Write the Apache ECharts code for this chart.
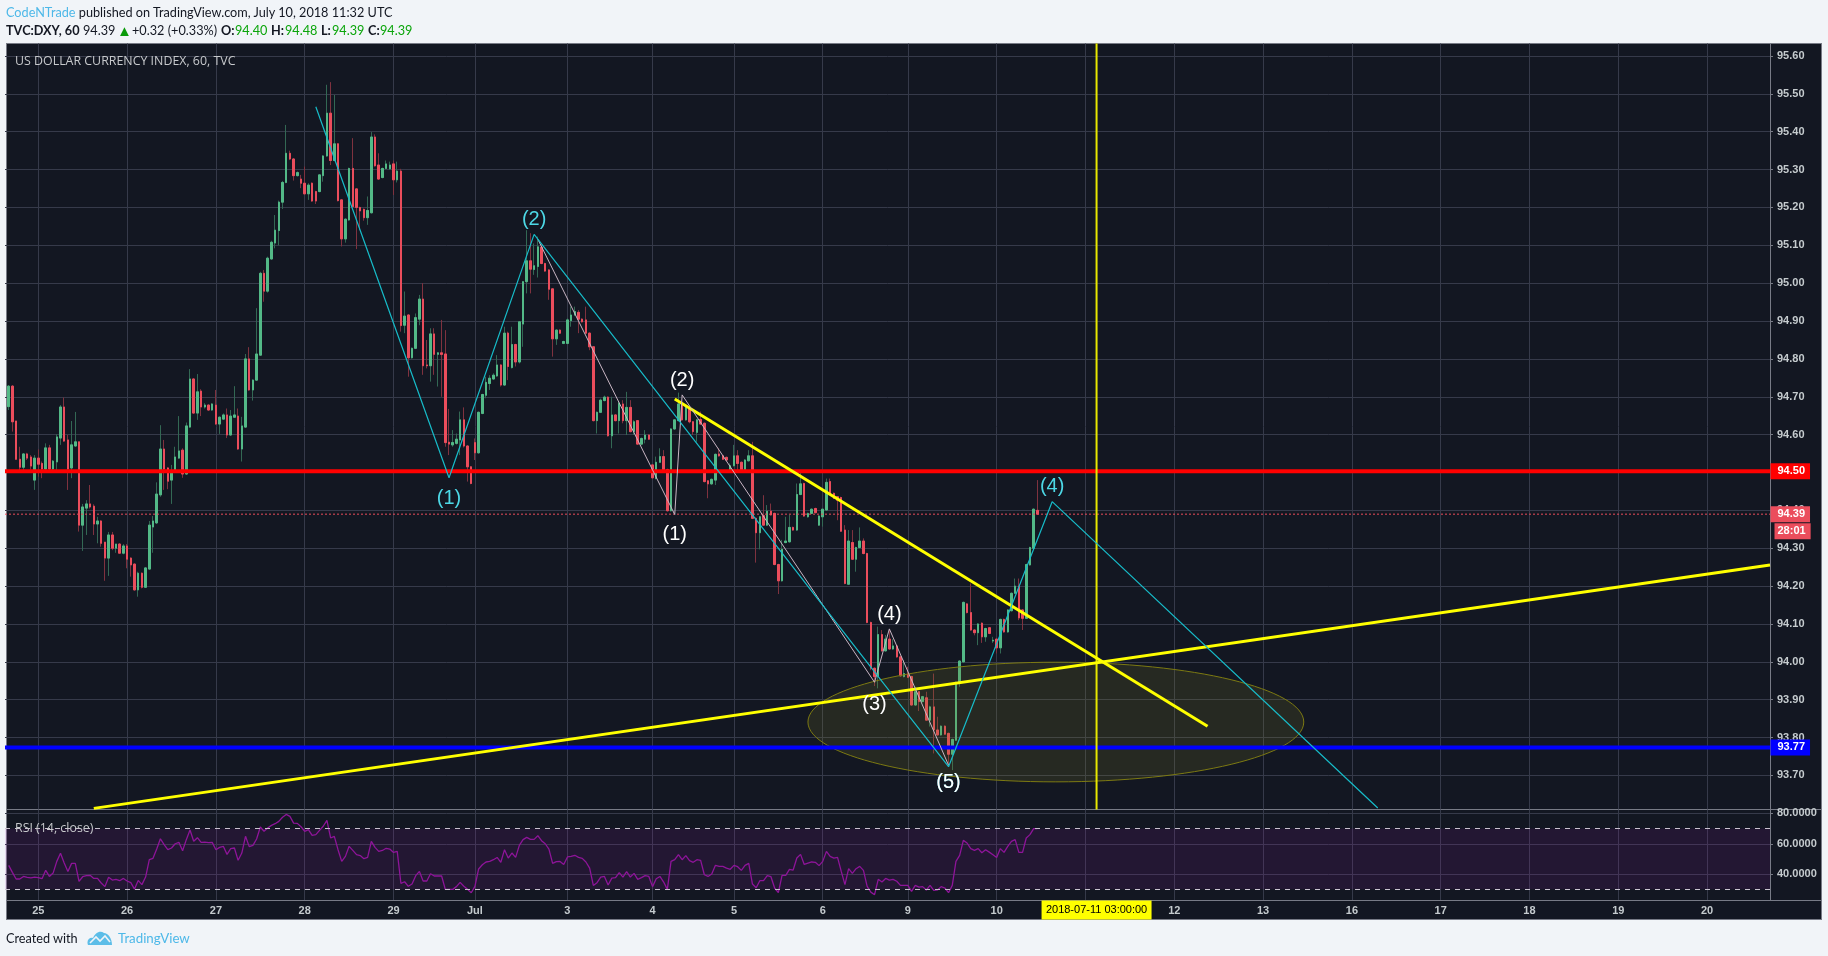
<!DOCTYPE html>
<html>
<head>
<meta charset="utf-8">
<title>TVC:DXY, 60</title>
<script src="https://cdn.jsdelivr.net/npm/echarts@6/dist/echarts.min.js"></script>
<style>
    html, body { margin: 0; padding: 0; width: 1828px; height: 956px; overflow: hidden; background: #f1f4f8; }
    #panel { position: absolute; left: 6px; top: 43px; width: 1814px; height: 875px; background: #131722; border: 1px solid #787b86; }
    .rule { position: absolute; background: #787b86; }
    #chart { position: absolute; left: 0; top: 0; width: 1828px; height: 956px; }
    .hd { position: absolute; font: 12.7px Lato, sans-serif; white-space: nowrap; color: #131722; line-height: 18px; }
    .num { color: #0aa50a; }
    .blue { color: #4db8e8; }
</style>
</head>
<body>
<div id="panel"></div>
<div class="rule" style="left:6px;top:809px;width:1815px;height:1px"></div>
<div class="rule" style="left:6px;top:900px;width:1815px;height:1px"></div>
<div class="rule" style="left:1770px;top:43px;width:1px;height:857px"></div>
<div id="chart"></div>

<div class="hd" style="left:6px;top:3px"><span class="blue">CodeNTrade</span> published on TradingView.com, July 10, 2018 11:32 UTC</div>
<div class="hd" style="left:6px;top:21px;font-weight:700">TVC:DXY, 60</div>
<div class="hd" style="left:83px;top:21px">94.39</div>
<div class="hd" style="left:117px;top:21px;color:#0a9a0a;font-size:15px">▲</div>
<div class="hd" style="left:132px;top:21px">+0.32 (+0.33%)</div>
<div class="hd" style="left:221px;top:21px;font-weight:700">O:</div><div class="hd num" style="left:235px;top:21px">94.40</div>
<div class="hd" style="left:271px;top:21px;font-weight:700">H:</div><div class="hd num" style="left:285px;top:21px">94.48</div>
<div class="hd" style="left:321px;top:21px;font-weight:700">L:</div><div class="hd num" style="left:332px;top:21px">94.39</div>
<div class="hd" style="left:368px;top:21px;font-weight:700">C:</div><div class="hd num" style="left:380px;top:21px">94.39</div>
<div class="hd" style="left:6px;top:929px">Created with</div>
<svg style="position:absolute;left:87px;top:930px" width="26" height="16" viewBox="0 0 26 16">
    <path d="M1 15 C-1 10 3 7 6 8 C8 3 13 0 17 3 C21 3 25 8 25 15 Z" fill="#5cbde8"/>
    <path d="M3 13 L9 7 L13 11 L18 6 L23 12" fill="none" stroke="#f1f4f8" stroke-width="1.6"/>
</svg>
<div class="hd blue" style="left:118px;top:929px;font-size:13.3px">TradingView</div>

<script>
// hourly bars, index 0 of the axis is left empty
const opens = [null,
    94.674,94.728,94.636,94.535,94.514,94.549,94.541,94.480,94.538,94.524,
    94.509,94.565,94.509,94.528,94.591,94.673,94.586,94.512,94.570,94.581,
    94.361,94.406,94.417,94.411,94.364,94.372,94.316,94.274,94.335,94.300,
    94.311,94.287,94.306,94.274,94.258,94.190,94.234,94.197,94.245,94.356,
    94.367,94.441,94.562,94.512,94.480,94.501,94.538,94.559,94.496,94.620,
    94.747,94.657,94.715,94.673,94.678,94.665,94.678,94.628,94.641,94.652,
    94.599,94.646,94.649,94.562,94.620,94.800,94.718,94.744,94.810,95.026,
    94.979,95.064,95.106,95.139,95.214,95.266,95.343,95.328,95.284,95.275,
    95.264,95.236,95.264,95.242,95.242,95.284,95.336,95.449,95.324,95.368,
    95.220,95.117,95.167,95.303,95.249,95.200,95.195,95.173,95.186,95.386,
    95.312,95.279,95.303,95.302,95.315,95.273,95.296,94.889,94.916,94.803,
    94.828,94.905,94.958,94.784,94.782,94.866,94.812,94.816,94.813,94.580,
    94.573,94.577,94.586,94.639,94.570,94.515,94.579,94.552,94.656,94.704,
    94.735,94.747,94.755,94.784,94.731,94.868,94.777,94.838,94.792,94.892,
    95.004,95.059,95.036,95.044,95.095,95.052,95.035,94.985,94.853,94.876,
    94.841,94.841,94.901,94.916,94.923,94.905,94.903,94.868,94.832,94.637,
    94.659,94.690,94.699,94.597,94.652,94.637,94.681,94.637,94.672,94.608,
    94.637,94.575,94.588,94.599,94.520,94.484,94.527,94.542,94.508,94.399,
    94.615,94.637,94.681,94.639,94.672,94.634,94.606,94.640,94.630,94.478,
    94.470,94.480,94.549,94.544,94.540,94.508,94.518,94.544,94.527,94.502,
    94.531,94.544,94.379,94.341,94.386,94.361,94.398,94.392,94.257,94.214,
    94.315,94.317,94.355,94.348,94.442,94.471,94.383,94.392,94.405,94.361,
    94.383,94.401,94.476,94.445,94.436,94.434,94.348,94.205,94.315,94.271,
    94.302,94.319,94.286,94.104,93.983,93.961,94.072,94.029,94.060,94.034,
    94.042,94.013,93.961,93.968,93.961,93.886,93.921,93.895,93.905,93.846,
    93.881,93.820,93.807,93.830,93.811,93.756,93.793,93.945,94.000,94.153,
    94.130,94.084,94.077,94.102,94.066,94.090,94.055,94.060,94.037,94.112,
    94.079,94.135,94.181,94.200,94.137,94.115,94.256,94.300,94.400]
const closes = [null,
    94.728,94.634,94.535,94.514,94.549,94.538,94.517,94.538,94.522,94.509,
    94.565,94.509,94.530,94.594,94.673,94.583,94.509,94.573,94.581,94.361,
    94.409,94.417,94.409,94.364,94.372,94.313,94.274,94.335,94.300,94.311,
    94.287,94.306,94.271,94.256,94.190,94.234,94.197,94.248,94.361,94.372,
    94.443,94.562,94.509,94.477,94.504,94.541,94.557,94.496,94.623,94.747,
    94.657,94.713,94.673,94.678,94.665,94.681,94.628,94.646,94.652,94.599,
    94.649,94.652,94.562,94.623,94.800,94.718,94.744,94.813,95.026,94.979,
    95.066,95.108,95.140,95.214,95.266,95.343,95.328,95.284,95.292,95.264,
    95.236,95.259,95.217,95.217,95.286,95.336,95.449,95.324,95.368,95.218,
    95.117,95.169,95.303,95.202,95.200,95.191,95.173,95.192,95.386,95.310,
    95.275,95.303,95.315,95.312,95.273,95.296,94.888,94.913,94.803,94.828,
    94.909,94.958,94.782,94.782,94.866,94.812,94.816,94.812,94.579,94.575,
    94.579,94.588,94.639,94.570,94.515,94.471,94.552,94.659,94.706,94.738,
    94.749,94.757,94.784,94.731,94.868,94.780,94.838,94.792,94.898,95.004,
    95.059,95.037,95.046,95.096,95.052,95.032,94.984,94.853,94.876,94.868,
    94.846,94.903,94.916,94.925,94.905,94.898,94.868,94.832,94.637,94.659,
    94.691,94.699,94.597,94.652,94.637,94.683,94.637,94.672,94.608,94.634,
    94.575,94.590,94.599,94.588,94.486,94.527,94.542,94.508,94.399,94.615,
    94.639,94.681,94.639,94.674,94.634,94.608,94.639,94.628,94.476,94.470,
    94.482,94.548,94.544,94.535,94.533,94.518,94.544,94.524,94.505,94.533,
    94.544,94.379,94.341,94.383,94.361,94.398,94.388,94.257,94.214,94.297,
    94.319,94.355,94.348,94.442,94.470,94.385,94.392,94.403,94.394,94.385,
    94.403,94.474,94.442,94.432,94.427,94.345,94.207,94.319,94.271,94.302,
    94.319,94.286,94.104,93.983,93.961,94.072,94.029,94.060,94.034,94.042,
    94.013,93.963,93.969,93.959,93.886,93.921,93.895,93.908,93.846,93.881,
    93.820,93.807,93.830,93.809,93.756,93.795,93.946,94.002,94.157,94.130,
    94.084,94.077,94.100,94.066,94.088,94.075,94.057,94.037,94.112,94.079,
    94.137,94.181,94.200,94.116,94.115,94.257,94.302,94.403,94.390]
const lows = [null,
    94.665,94.608,94.533,94.502,94.502,94.533,94.507,94.454,94.489,94.485,
    94.507,94.507,94.502,94.502,94.573,94.581,94.454,94.485,94.568,94.344,
    94.293,94.335,94.405,94.335,94.313,94.304,94.214,94.227,94.295,94.288,
    94.286,94.284,94.247,94.225,94.188,94.172,94.194,94.195,94.243,94.288,
    94.364,94.436,94.454,94.456,94.417,94.499,94.536,94.486,94.494,94.618,
    94.655,94.639,94.649,94.669,94.663,94.663,94.626,94.602,94.639,94.591,
    94.597,94.644,94.560,94.529,94.618,94.716,94.690,94.742,94.808,94.951,
    94.975,95.062,95.092,95.100,95.196,95.264,95.325,95.271,95.282,95.251,
    95.234,95.220,95.215,95.209,95.240,95.268,95.334,95.312,95.322,95.216,
    95.097,95.107,95.165,95.200,95.090,95.140,95.165,95.154,95.184,95.308,
    95.273,95.277,95.301,95.300,95.233,95.266,94.872,94.868,94.753,94.801,
    94.826,94.889,94.758,94.775,94.740,94.758,94.727,94.700,94.568,94.546,
    94.568,94.574,94.546,94.566,94.476,94.469,94.533,94.550,94.654,94.696,
    94.718,94.745,94.753,94.727,94.729,94.744,94.775,94.780,94.788,94.832,
    94.973,94.973,95.022,95.015,95.050,95.030,94.956,94.806,94.837,94.866,
    94.839,94.839,94.885,94.914,94.868,94.896,94.866,94.823,94.635,94.603,
    94.657,94.688,94.595,94.564,94.635,94.603,94.630,94.599,94.606,94.599,
    94.573,94.572,94.577,94.586,94.484,94.482,94.525,94.506,94.397,94.397,
    94.613,94.635,94.637,94.637,94.630,94.599,94.581,94.626,94.474,94.432,
    94.468,94.467,94.542,94.533,94.531,94.499,94.516,94.506,94.503,94.500,
    94.529,94.377,94.262,94.297,94.359,94.359,94.386,94.255,94.179,94.212,
    94.313,94.315,94.346,94.346,94.440,94.383,94.381,94.390,94.392,94.359,
    94.357,94.399,94.440,94.430,94.374,94.343,94.205,94.203,94.269,94.238,
    94.300,94.284,94.102,93.978,93.936,93.930,94.027,94.027,94.032,94.032,
    94.011,93.961,93.959,93.957,93.884,93.884,93.870,93.893,93.844,93.829,
    93.758,93.805,93.805,93.807,93.723,93.714,93.791,93.934,93.998,94.128,
    94.082,94.070,94.044,94.050,94.053,94.073,94.050,94.022,94.022,94.077,
    94.077,94.133,94.179,94.110,94.084,94.113,94.254,94.298,94.390]
const highs = [null,
    94.731,94.731,94.636,94.568,94.551,94.552,94.546,94.546,94.561,94.529,
    94.577,94.573,94.533,94.601,94.678,94.698,94.599,94.636,94.660,94.581,
    94.417,94.427,94.467,94.416,94.383,94.374,94.316,94.343,94.343,94.311,
    94.313,94.311,94.311,94.276,94.260,94.238,94.236,94.250,94.372,94.385,
    94.474,94.625,94.586,94.514,94.520,94.568,94.649,94.564,94.632,94.773,
    94.749,94.760,94.720,94.683,94.680,94.683,94.718,94.648,94.656,94.669,
    94.665,94.728,94.669,94.647,94.813,94.831,94.746,94.934,95.030,95.035,
    95.070,95.112,95.180,95.218,95.270,95.418,95.350,95.330,95.295,95.286,
    95.308,95.264,95.266,95.244,95.288,95.338,95.524,95.531,95.497,95.370,
    95.222,95.171,95.305,95.383,95.251,95.202,95.197,95.229,95.399,95.393,
    95.343,95.305,95.324,95.321,95.324,95.321,95.302,94.978,94.918,94.830,
    94.920,94.969,95.000,94.850,94.881,94.881,94.818,94.903,94.876,94.668,
    94.612,94.603,94.661,94.672,94.572,94.517,94.590,94.661,94.708,94.753,
    94.757,94.762,94.810,94.786,94.885,94.872,94.885,94.840,94.900,95.006,
    95.140,95.132,95.105,95.123,95.101,95.054,95.037,94.987,94.878,94.878,
    94.848,94.907,94.938,94.938,94.929,94.907,94.938,94.870,94.834,94.661,
    94.695,94.703,94.701,94.700,94.654,94.687,94.691,94.713,94.691,94.638,
    94.638,94.592,94.612,94.601,94.522,94.542,94.564,94.559,94.510,94.617,
    94.641,94.711,94.690,94.676,94.674,94.636,94.641,94.661,94.632,94.480,
    94.484,94.550,94.564,94.546,94.542,94.524,94.573,94.559,94.529,94.535,
    94.559,94.581,94.381,94.385,94.440,94.414,94.418,94.394,94.259,94.322,
    94.383,94.388,94.357,94.471,94.502,94.473,94.394,94.405,94.407,94.387,
    94.405,94.484,94.484,94.447,94.438,94.436,94.361,94.348,94.348,94.304,
    94.355,94.326,94.288,94.106,93.985,94.093,94.084,94.071,94.084,94.060,
    94.044,94.015,94.005,93.987,93.963,93.934,93.923,93.910,93.921,93.884,
    93.969,93.855,93.832,93.832,93.813,93.797,93.948,94.004,94.159,94.155,
    94.207,94.086,94.102,94.104,94.090,94.092,94.066,94.062,94.114,94.114,
    94.139,94.183,94.220,94.220,94.139,94.259,94.304,94.405,94.480]
const rsi = [null,
    45.8,41.2,36.8,36.8,38.5,37.9,37.5,38.1,37.7,37.0,
    42.5,38.5,40.7,48.4,53.7,47.3,41.8,47.1,47.1,35.3,
    38.3,39.0,39.2,37.2,37.2,34.2,31.8,37.9,36.1,36.6,
    35.7,37.2,35.5,34.4,30.2,35.9,33.1,38.1,49.5,50.4,
    56.5,63.3,59.4,56.1,57.2,60.0,60.9,55.4,62.7,69.0,
    61.6,64.0,60.9,61.1,60.7,60.9,56.1,57.6,58.3,53.0,
    56.8,57.2,49.1,53.9,64.9,58.1,58.9,63.1,71.0,68.2,
    70.4,72.1,73.2,74.7,77.4,79.3,78.0,73.6,73.4,71.2,
    68.2,69.3,65.5,66.0,68.8,71.5,75.4,63.8,64.9,56.1,
    48.4,51.7,58.3,55.6,52.8,52.2,50.2,51.0,61.6,57.6,
    55.0,55.6,57.0,56.5,54.3,55.0,33.9,35.0,32.0,33.5,
    39.0,41.8,35.5,35.5,40.3,38.8,38.8,38.8,30.0,30.0,
    30.0,31.8,34.6,32.0,30.0,27.8,32.0,43.4,46.2,48.0,
    48.4,49.5,51.0,47.8,56.1,50.6,53.9,51.0,58.9,62.7,
    64.2,62.9,62.9,65.3,62.0,60.0,56.5,47.1,48.2,48.4,
    46.4,51.3,51.7,52.4,51.0,50.4,48.0,44.0,32.6,34.4,
    38.1,38.5,32.9,37.4,37.7,41.0,38.1,41.6,38.1,40.5,
    36.6,37.7,39.0,38.5,31.8,37.0,38.5,34.8,30.0,48.4,
    49.5,52.8,49.5,52.2,48.9,47.8,49.5,49.1,39.6,38.5,
    40.1,45.8,45.1,45.1,44.0,43.2,45.8,44.9,42.5,45.8,
    47.1,33.5,31.1,35.7,35.7,39.0,38.3,30.9,27.8,39.2,
    39.2,43.2,42.7,50.6,53.0,46.4,47.3,48.0,47.8,45.6,
    48.4,55.0,51.7,50.6,51.0,41.8,33.1,43.6,40.5,43.6,
    45.1,42.5,32.0,28.2,26.5,36.6,34.8,37.2,36.1,36.6,
    35.3,32.6,32.6,32.6,28.7,32.6,31.5,31.8,29.6,32.6,
    29.3,29.6,31.8,30.9,27.8,32.6,48.4,52.4,62.2,60.5,
    56.8,55.6,56.8,54.1,56.1,54.5,52.8,51.0,56.8,54.3,
    58.3,61.6,62.7,54.3,54.3,63.8,66.0,69.9,69.9]

const dayTickIdx = [9,33,57,81,105,127,152,175,197,221,244,268,292,316,340,364,388,412,436,460]
const dayTickLabels = ['25','26','27','28','29','Jul','3','4','5','6','9','10','11','12','13','16','17','18','19','20']
const priceTicks = [93.7,93.8,93.9,94.0,94.1,94.2,94.3,94.4,94.5,94.6,94.7,94.8,94.9,95.0,95.1,95.2,95.3,95.4,95.5,95.6]
const rsiTicks = [40,60,80]
const rsiBounds = [70,30]
const lastIndex = 477

// drawings on the chart
const waveCyanX = [84,120,143,236,255,283,371]
const waveCyanY = [95.466,94.486,95.129,93.961,93.723,94.423,93.614]
const wavePaleX = [144,181,183,235,239,255]
const wavePaleY = [95.116,94.389,94.705,93.946,94.087,93.727]
const trendDownX = [181,325]
const trendDownY = [94.694,93.830]
const trendUpX = [24,477]
const trendUpY = [93.613,94.256]
const resistance = 94.503
const support = 93.774
const lastPrice = 94.39
const cursorIdx = 295
const ellipseCenter = [284,93.841]
const ellipseRadius = [67,0.158]

const paleLabelX = [181,183,235,239,255]
const paleLabelY = [94.337,94.744,93.888,94.126,93.682]
const paleLabelText = ['(1)','(2)','(3)','(4)','(5)']
const cyanLabelX = [120,143,283,255]
const cyanLabelY = [94.432,95.167,94.462,93.682]
const cyanLabelText = ['(1)','(2)','(4)','(5)']

const AXIS_FONT = '"Liberation Sans", Arial, sans-serif'
const GRID_COLOR = '#363a4a'
const LABEL_COLOR = '#c5cbce'
const HIDDEN = 'rgba(0,0,0,0)'

const categories = Array.from({ length: lastIndex + 1 }, (_, i) => String(i))
const isDayTick = (i) => dayTickIdx.includes(i)

const wickData = opens.map((o, k) => [o, closes[k], lows[k], highs[k]])
const bodyData = opens.map((o, k) => o === null ? [null, null, null, null] : [o, closes[k], Math.min(o, closes[k]), Math.max(o, closes[k])])

function pairs(xs, ys) {
    return xs.map((x, k) => [x, ys[k]])
}

function drawLine(xs, ys, color, width, extra) {
    return Object.assign({
        type: 'line', xAxisIndex: 0, yAxisIndex: 0, z: 4, silent: true, animation: false,
        data: pairs(xs, ys), showSymbol: false, symbol: 'none',
        lineStyle: { color, width }, itemStyle: { color },
    }, extra || {})
}

function textMarks(xs, ys, texts, color, extra) {
    return Object.assign({
        type: 'scatter', xAxisIndex: 0, yAxisIndex: 0, z: 6, silent: true, animation: false,
        data: pairs(xs, ys), symbolSize: 1, itemStyle: { color: HIDDEN, opacity: 1 },
        label: {
            show: true, position: 'inside', color, fontSize: 20, fontFamily: AXIS_FONT,
            formatter: (p) => texts[p.dataIndex],
        },
    }, extra || {})
}

function priceTag(value, text, bg, extra) {
    return {
        type: 'scatter', xAxisIndex: 0, yAxisIndex: 0, z: 7, silent: true, animation: false, clip: false,
        data: [[lastIndex, value]], symbolSize: 1, itemStyle: { color: HIDDEN, opacity: 1 },
        label: Object.assign({
            show: true, position: 'right', distance: 0, formatter: text,
            color: '#fff', fontSize: 11, fontFamily: AXIS_FONT, fontWeight: 'bold',
            backgroundColor: bg, height: 16, lineHeight: 16, padding: [0, 5, 0, 7],
        }, extra || {}),
    }
}

const chart = echarts.init(document.getElementById('chart'), null, { renderer: 'canvas' })
chart.setOption({
    animation: false,
    backgroundColor: 'transparent',
    title: [
        { text: 'US DOLLAR CURRENCY INDEX, 60, TVC', left: 15, top: 55, padding: 0,
          textStyle: { color: '#c7c9cc', fontSize: 12.4, fontWeight: 'normal', fontFamily: '"Open Sans", sans-serif' } },
        { text: 'RSI (14, close)', left: 15, top: 822, padding: 0, z: 8,
          textStyle: { color: '#c7c9cc', fontSize: 12.4, fontWeight: 'normal', fontFamily: '"Open Sans", sans-serif' } },
    ],
    grid: [
        { left: 5, top: 43.5, width: 1765, height: 766 },
        { left: 5, top: 810, width: 1765, height: 90 },
    ],
    xAxis: [
        {
            type: 'category', gridIndex: 0, data: categories, boundaryGap: false,
            axisLine: { show: false }, axisTick: { show: false }, axisLabel: { show: false },
            splitLine: { show: true, interval: (i) => isDayTick(i), lineStyle: { color: GRID_COLOR, width: 1 } },
        },
        {
            type: 'category', gridIndex: 1, data: categories, boundaryGap: false,
            axisLine: { show: false }, axisTick: { show: false },
            axisLabel: {
                show: true, interval: (i) => isDayTick(i), margin: 5, color: LABEL_COLOR, fontSize: 11, fontFamily: AXIS_FONT, fontWeight: 'bold',
                formatter: (v, i) => dayTickLabels[dayTickIdx.indexOf(i)],
            },
            splitLine: { show: true, interval: (i) => isDayTick(i), lineStyle: { color: GRID_COLOR, width: 1 } },
        },
    ],
    yAxis: [
        {
            type: 'value', gridIndex: 0, position: 'right', min: 93.61, max: 95.633, scale: true,
            axisLine: { show: false },
            axisTick: { show: true, length: 3, customValues: priceTicks, lineStyle: { color: '#787b86' } },
            axisLabel: {
                customValues: priceTicks, margin: 7, color: LABEL_COLOR, fontSize: 11, fontFamily: AXIS_FONT, fontWeight: 'bold',
                padding: [2, 0, 0, 0],
                formatter: (v) => v.toFixed(2),
            },
            splitLine: { show: true, lineStyle: { color: GRID_COLOR, width: 1 } },
        },
        {
            type: 'value', gridIndex: 1, position: 'right', min: 23, max: 82.2,
            axisLine: { show: false },
            axisTick: { show: true, length: 3, customValues: rsiTicks, lineStyle: { color: '#787b86' } },
            axisLabel: {
                customValues: rsiTicks, margin: 7, color: LABEL_COLOR, fontSize: 11, fontFamily: AXIS_FONT, fontWeight: 'bold',
                padding: [2, 0, 0, 0],
                formatter: (v) => v.toFixed(4),
            },
            splitLine: { show: true, lineStyle: { color: GRID_COLOR, width: 1 } },
        },
    ],
    series: [
        {
            type: 'candlestick', xAxisIndex: 0, yAxisIndex: 0, z: 2, silent: true, barWidth: 2, data: wickData,
            itemStyle: { color: '#336854', color0: '#7f323f', borderColor: '#336854', borderColor0: '#7f323f', borderWidth: 1 },
        },
        {
            type: 'candlestick', xAxisIndex: 0, yAxisIndex: 0, z: 2, silent: true, barWidth: 2, data: bodyData,
            itemStyle: { color: '#53b987', color0: '#eb4d5c', borderColor: '#53b987', borderColor0: '#eb4d5c', borderWidth: 1 },
        },
        {
            type: 'custom', xAxisIndex: 0, yAxisIndex: 0, z: 3, silent: true, data: [ellipseCenter],
            encode: { x: 0, y: 1 },
            renderItem(params, api) {
                const c = api.coord([api.value(0), api.value(1)])
                const e = api.coord([api.value(0) + ellipseRadius[0], api.value(1) + ellipseRadius[1]])
                return {
                    type: 'ellipse',
                    shape: { cx: c[0], cy: c[1], rx: e[0] - c[0], ry: c[1] - e[1] },
                    style: { fill: 'rgba(130,130,40,0.18)', stroke: '#7d7a12', lineWidth: 1 },
                }
            },
        },
        drawLine([0, lastIndex], [lastPrice, lastPrice], '#eb4d5c', 1, { lineStyle: { color: '#eb4d5c', width: 1, type: [2, 2] } }),
        drawLine([0, lastIndex], [resistance, resistance], '#ff0000', 4),
        drawLine([0, lastIndex], [support, support], '#0000ff', 4),
        drawLine([cursorIdx, cursorIdx], [93.61, 95.633], '#e8e800', 2),
        drawLine(trendUpX, trendUpY, '#ffff00', 3),
        drawLine(trendDownX, trendDownY, '#ffff00', 3),
        drawLine(wavePaleX, wavePaleY, '#c9b6c4', 1, { showSymbol: true, symbol: 'emptyCircle', symbolSize: 3 }),
        drawLine(waveCyanX, waveCyanY, '#17bcc9', 1.2, { showSymbol: true, symbol: 'emptyCircle', symbolSize: 3 }),
        textMarks(cyanLabelX, cyanLabelY, cyanLabelText, '#4dd8e6'),
        textMarks(paleLabelX, paleLabelY, paleLabelText, '#ffffff', { z: 7 }),
        priceTag(resistance, '94.50', '#ff0000'),
        priceTag(lastPrice, '94.39', '#eb4d5c'),
        priceTag(lastPrice, '28:01', '#eb4d5c', { offset: [4, 17], padding: [0, 5, 0, 3] }),
        priceTag(support, '93.77', '#0000ff'),
        {
            type: 'line', xAxisIndex: 1, yAxisIndex: 1, z: 4, silent: true, data: rsi, showSymbol: false, symbol: 'none',
            lineStyle: { color: '#8e1599', width: 1.3 },
            markArea: { silent: true, itemStyle: { color: 'rgba(150,20,170,0.13)' }, data: [[{ yAxis: rsiBounds[0] }, { yAxis: rsiBounds[1] }]] },
            markLine: {
                silent: true, symbol: 'none', label: { show: false },
                lineStyle: { color: '#c9c3cf', width: 1, type: [5, 5] },
                data: rsiBounds.map((v) => ({ yAxis: v })),
            },
        },
        {
            type: 'scatter', xAxisIndex: 1, yAxisIndex: 1, z: 8, silent: true, clip: false,
            data: [[cursorIdx, 23]], symbolSize: 1, itemStyle: { color: HIDDEN, opacity: 1 },
            label: {
                show: true, position: 'bottom', distance: 0, formatter: '2018-07-11 03:00:00',
                color: '#000', fontSize: 11, fontFamily: AXIS_FONT, backgroundColor: '#ffff00',
                width: 110, height: 19, lineHeight: 19, align: 'center',
            },
        },
    ],
})
</script>
</body>
</html>
